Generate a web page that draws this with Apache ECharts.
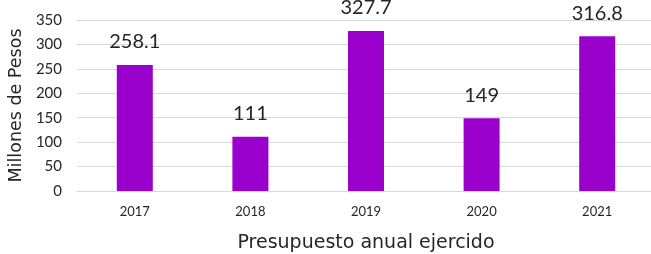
<!DOCTYPE html>
<html>
<head>
<meta charset="utf-8">
<script src="https://cdn.jsdelivr.net/npm/echarts@6/dist/echarts.min.js"></script>
<style>
  html, body { margin: 0; padding: 0; background: #fff; }
  #chart { width: 651px; height: 254px; }
</style>
</head>
<body>
<div id="chart"></div>
<script>
const years = ["2017", "2018", "2019", "2020", "2021"];
const budget = [258.1, 111, 327.7, 149, 316.8];
const yTicks = [0, 50, 100, 150, 200, 250, 300, 350];

const numFont = "Lato, 'Noto Sans', sans-serif";
const nameFont = "'DejaVu Sans', sans-serif";
const chart = echarts.init(document.getElementById("chart"));

chart.setOption({
  animation: false,
  grid: { left: 77, top: 20, width: 578, height: 171, outerBoundsMode: "none", containLabel: false },
  xAxis: {
    type: "category",
    data: years,
    name: "Presupuesto anual ejercido",
    nameLocation: "middle",
    nameGap: 43,
    nameTextStyle: { fontFamily: nameFont, fontSize: 19, color: "#262626" },
    axisTick: { show: false },
    axisLine: { lineStyle: { color: "#d9d9d9", width: 1 } },
    axisLabel: { fontFamily: numFont, fontSize: 13, color: "#262626", margin: 14 },
  },
  yAxis: {
    type: "value",
    min: yTicks[0],
    max: yTicks[yTicks.length - 1],
    interval: 50,
    name: "Millones de Pesos",
    nameLocation: "middle",
    nameGap: 48,
    nameTextStyle: { fontFamily: nameFont, fontSize: 17.5, color: "#262626" },
    axisLine: { show: false },
    axisTick: { show: false },
    splitLine: { lineStyle: { color: "#d9d9d9", width: 1 } },
    axisLabel: { fontFamily: numFont, fontSize: 15, color: "#262626", margin: 15 },
  },
  series: [
    {
      type: "bar",
      data: budget,
      barWidth: 36,
      itemStyle: { color: "#9900cc" },
      label: {
        show: true,
        position: "top",
        distance: 13,
        fontFamily: numFont,
        fontSize: 20,
        color: "#262626",
      },
    },
  ],
});
</script>
</body>
</html>
